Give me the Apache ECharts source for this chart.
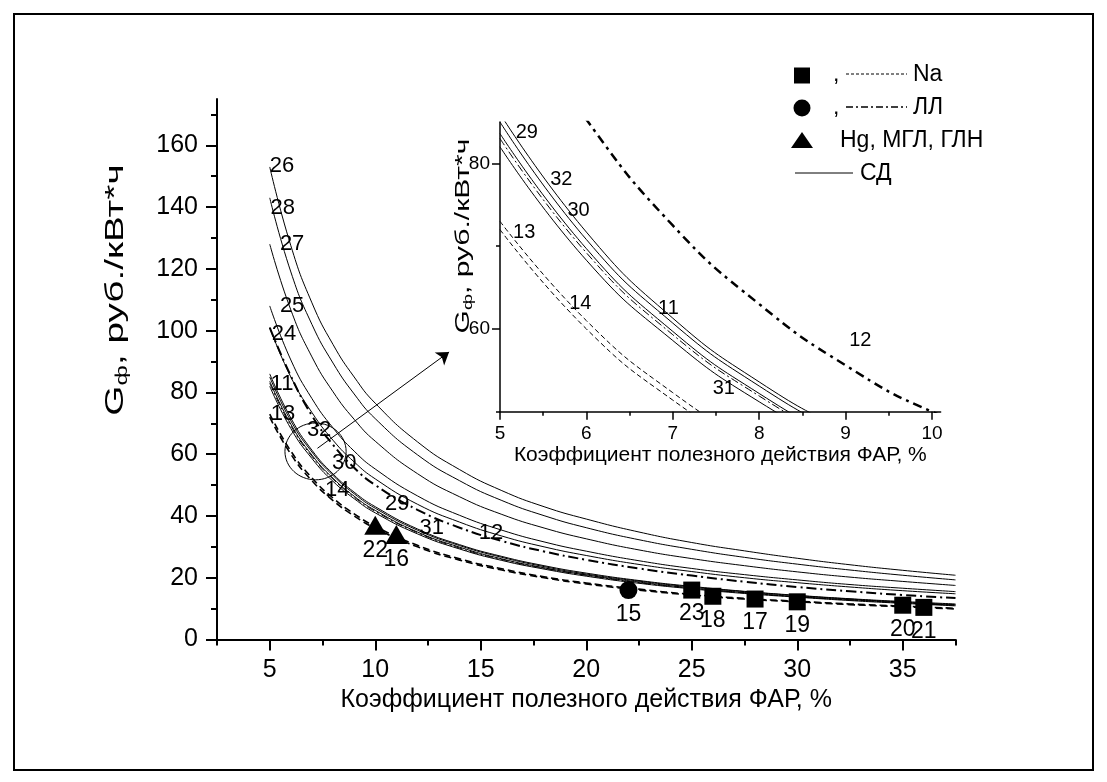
<!DOCTYPE html>
<html>
<head>
<meta charset="utf-8">
<script src="https://cdn.jsdelivr.net/npm/echarts@6/dist/echarts.min.js"></script>
<style>
  html, body { margin: 0; padding: 0; background: #fff; }
  #chart { width: 1107px; height: 782px; }
</style>
</head>
<body>
<div id="chart"></div>
<script>
// efficiency of PAR, %
const eta = [5, 6, 7, 8, 9, 10, 12, 14, 16, 18, 20, 22.5, 25, 27.5, 30, 32.5, 35, 37.5]

// СД (solid)
const g26 = [153, 127.5, 109, 95.5, 85, 76.5, 64, 55, 48.2, 43, 39, 34.8, 31.4, 28.7, 26.3, 24.2, 22.4, 20.8]
const g28 = [143, 119, 102, 89.5, 79.5, 71.5, 59.8, 51.4, 45, 40.1, 36.2, 32.3, 29.2, 26.6, 24.4, 22.5, 20.8, 19.3]
const g27 = [128, 106.7, 91.5, 80.2, 71.3, 64.2, 53.7, 46.2, 40.5, 36.1, 32.6, 29, 26.2, 23.9, 21.9, 20.2, 18.8, 17.5]
const g25 = [108, 90.5, 78, 68.5, 61, 55.2, 46.5, 40.2, 35.4, 31.6, 28.6, 25.5, 23, 21, 19.3, 17.8, 16.6, 15.5]
const g24 = [101, 85, 73.5, 64.5, 57.5, 52, 43.8, 38, 33.5, 30, 27.2, 24.3, 22, 20, 18.4, 17, 15.8, 14.8]
const g29 = [86, 71.7, 61.3, 53.6, 47.7, 43, 35.8, 30.7, 26.9, 23.9, 21.5, 19.1, 17.2, 15.6, 14.3, 13.2, 12.3, 11.5]
const g32 = [85, 70.8, 60.7, 53.1, 47.2, 42.5, 35.4, 30.4, 26.6, 23.6, 21.2, 18.9, 17, 15.5, 14.2, 13.1, 12.1, 11.3]
const g30 = [83.6, 69.7, 59.7, 52.2, 46.4, 41.8, 34.8, 29.9, 26.1, 23.2, 20.9, 18.6, 16.7, 15.2, 13.9, 12.9, 11.9, 11.1]
const g31 = [82, 68.3, 58.6, 51.2, 45.6, 41, 34.2, 29.3, 25.6, 22.8, 20.5, 18.2, 16.4, 14.9, 13.7, 12.6, 11.7, 10.9]
// ЛЛ (dash-dot)
const g12 = [101, 85.3, 72.5, 63, 55.6, 50, 42, 36.2, 31.9, 28.5, 25.8, 23, 20.7, 18.7, 17, 15.6, 14.4, 13.4]
const g11 = [83, 69.2, 59.3, 51.9, 46.1, 41.5, 34.6, 29.6, 25.9, 23.1, 20.8, 18.4, 16.6, 15.1, 13.8, 12.8, 11.9, 11.1]
// Na (dashed)
const g13 = [73, 61, 52.3, 45.8, 40.7, 36.6, 30.5, 26.1, 22.9, 20.3, 18.3, 16.3, 14.6, 13.3, 12.4, 11.5, 10.8, 10.1]
const g14 = [72, 60, 51.4, 45, 40, 36, 30, 25.7, 22.5, 20, 18, 16, 14.4, 13.1, 12.2, 11.3, 10.6, 9.9]

// single lamps
const naX = [25, 26, 28, 30, 35, 36]
const naY = [16, 14, 13.1, 12.2, 11.1, 10.4]
const naNum = ['23', '18', '17', '19', '20', '21']
const llX = [22]
const llY = [16]
const llNum = ['15']
const hgX = [10, 11]
const hgY = [37, 34]
const hgNum = ['22', '16']

// curve numbers [text, eta, G]
const mainTags = [['26', 5.58, 153.3], ['28', 5.62, 139.7], ['27', 6.06, 128.1], ['25', 6.06, 108.1],
  ['24', 5.68, 99], ['11', 5.58, 82.9], ['13', 5.63, 73], ['32', 7.34, 67.8], ['30', 8.53, 57.2],
  ['14', 8.2, 48.4], ['29', 11.04, 43.9], ['31', 12.68, 36.2], ['12', 15.49, 34.6]]
const insetTags = [['29', 5.31, 83.7], ['32', 5.71, 78], ['30', 5.91, 74.3], ['13', 5.28, 71.7],
  ['14', 5.93, 63.1], ['11', 6.95, 62.5], ['12', 9.17, 58.6], ['31', 7.59, 52.8]]

// ticks
const xMainTicks = [5, 10, 15, 20, 25, 30, 35]
const xMainMinor = [2.5, 7.5, 12.5, 17.5, 22.5, 27.5, 32.5, 37.5]
const yMainTicks = [0, 20, 40, 60, 80, 100, 120, 140, 160]
const yMainMinor = [10, 30, 50, 70, 90, 110, 130, 150, 170]
const xInsetTicks = [5, 6, 7, 8, 9, 10]
const xInsetMinor = [5.5, 6.5, 7.5, 8.5, 9.5]
const yInsetTicks = [60, 80]
const yInsetMinor = [50, 70]

const FONT = 'Liberation Sans, Arial, sans-serif'
const xTitle = 'Коэффициент полезного действия ФАР, %'

const solid = { type: 'solid', width: 1 }
const naMain = { type: [7, 4], width: 1.6 }
const naInset = { type: [5, 3], width: 1 }
const llMain = { type: [10, 4, 2, 4], width: 2 }
const llInset = { type: [9, 5, 3, 5], width: 2.5 }
const llThin = { type: [8, 3, 2, 3], width: 1 }

function curve(name, ys, style, ax) {
  return {
    name: name,
    type: 'line',
    xAxisIndex: ax,
    yAxisIndex: ax,
    data: eta.map((x, i) => [x, ys[i]]),
    smooth: 0.5,
    symbol: 'none',
    silent: true,
    lineStyle: Object.assign({ color: '#000' }, style)
  }
}

function tags(list, ax, size) {
  return {
    type: 'scatter',
    xAxisIndex: ax,
    yAxisIndex: ax,
    symbolSize: 0,
    silent: true,
    itemStyle: { opacity: 1 },
    data: list.map(t => ({ value: [t[1], t[2]], name: t[0] })),
    label: { show: true, position: 'inside', formatter: '{b}', color: '#000', fontSize: size, fontFamily: FONT },
    z: 5
  }
}

function marks(xs, ys, nums, symbol, size) {
  return {
    type: 'scatter',
    xAxisIndex: 0,
    yAxisIndex: 0,
    symbol: symbol,
    symbolSize: size,
    silent: true,
    itemStyle: { color: '#000', opacity: 1 },
    data: xs.map((x, i) => ({ value: [x, ys[i]], name: nums[i] })),
    label: { show: true, position: 'bottom', distance: 4, formatter: '{b}', color: '#000', fontSize: 23, fontFamily: FONT },
    z: 6
  }
}

function valueAxis(grid, min, max, ticks, len, lw, labelOpt, extra) {
  return Object.assign({
    type: 'value',
    gridIndex: grid,
    min: min,
    max: max,
    splitLine: { show: false },
    axisLine: { show: true, onZero: false, lineStyle: { color: '#000', width: lw } },
    axisTick: { show: true, customValues: ticks, length: len, lineStyle: { color: '#000', width: lw } },
    axisLabel: labelOpt ? Object.assign({ customValues: ticks, color: '#000', fontFamily: FONT }, labelOpt) : { show: false }
  }, extra || {})
}

const chart = echarts.init(document.getElementById('chart'), null, { renderer: 'canvas' })

const series = [
  curve('26', g26, solid, 0), curve('28', g28, solid, 0), curve('27', g27, solid, 0),
  curve('25', g25, solid, 0), curve('24', g24, solid, 0),
  curve('29', g29, solid, 0), curve('32', g32, solid, 0), curve('30', g30, solid, 0), curve('31', g31, solid, 0),
  curve('12', g12, llMain, 0), curve('11', g11, llThin, 0),
  curve('13', g13, naMain, 0), curve('14', g14, naMain, 0),
  // inset
  curve('29i', g29, solid, 2), curve('32i', g32, solid, 2), curve('30i', g30, solid, 2), curve('31i', g31, solid, 2),
  curve('12i', g12, llInset, 2), curve('11i', g11, llThin, 2),
  curve('13i', g13, naInset, 2), curve('14i', g14, naInset, 2),
  marks(naX, naY, naNum, 'rect', 17),
  marks(llX, llY, llNum, 'circle', 18),
  marks(hgX, hgY, hgNum, 'triangle', [22, 19]),
  Object.assign(tags(mainTags, 0, 22), {
    markLine: {
      silent: true,
      animation: false,
      symbol: ['none', 'arrow'],
      symbolSize: 12,
      label: { show: false },
      lineStyle: { type: 'solid', color: '#000', width: 1, opacity: 1 },
      data: [[{ coord: [7.26, 61.9] }, { coord: [13.5, 93.1] }]]
    }
  }),
  tags(insetTags, 2, 20),
  {
    // zoom ellipse around the crowded region
    type: 'custom',
    xAxisIndex: 0,
    yAxisIndex: 0,
    silent: true,
    data: [[7.17, 60.9, 1.45, 9.2]],
    renderItem: function (params, api) {
      const c = api.coord([api.value(0), api.value(1)])
      const s = api.size([api.value(2), api.value(3)])
      return {
        type: 'ellipse',
        shape: { cx: c[0], cy: c[1], rx: s[0], ry: s[1] },
        style: { fill: 'none', stroke: '#000', lineWidth: 1 }
      }
    }
  }
]

function yTitle(x, y, size, stretch) {
  return {
    type: 'text', x: x, y: y, rotation: Math.PI / 2, scaleX: stretch, silent: true,
    style: {
      text: '{a|G}{b|ф}{a|, руб./кВт*ч}', align: 'center', verticalAlign: 'middle',
      rich: {
        a: { fontSize: size, fontFamily: FONT, fill: '#000' },
        b: { fontSize: Math.round(size * 0.64), fontFamily: FONT, fill: '#000', padding: [Math.round(size * 0.55), 0, 0, 0] }
      }
    }
  }
}

function legendText(x, y, text) {
  return { type: 'text', x: x, y: y, silent: true, style: { text: text, fontSize: 23, fontFamily: FONT, fill: '#000', verticalAlign: 'middle' } }
}

chart.setOption({
  animation: false,
  backgroundColor: '#fff',
  grid: [
    { left: 217, top: 99, width: 738.5, height: 540.5 },
    { left: 500, top: 122, width: 440.6, height: 289.7 }
  ],
  xAxis: [
    valueAxis(0, 2.5, 37.5, xMainTicks, 11, 2, { fontSize: 25, margin: 18 }, {
      position: 'bottom',
      name: xTitle, nameLocation: 'middle', nameGap: 40,
      nameTextStyle: { color: '#000', fontSize: 25, fontFamily: FONT }
    }),
    valueAxis(0, 2.5, 37.5, xMainMinor, 6, 2, null, { position: 'bottom', axisLine: { show: false } }),
    valueAxis(1, 5, 10.1, xInsetTicks, 8, 1.5, { fontSize: 19, margin: 13 }, {
      position: 'bottom',
      name: xTitle, nameLocation: 'middle', nameGap: 32,
      nameTextStyle: { color: '#000', fontSize: 21, fontFamily: FONT }
    }),
    valueAxis(1, 5, 10.1, xInsetMinor, 4, 1.5, null, { position: 'bottom', axisLine: { show: false } })
  ],
  yAxis: [
    valueAxis(0, 0, 175, yMainTicks, 11, 2, { fontSize: 25, margin: 19 }, { position: 'left' }),
    valueAxis(0, 0, 175, yMainMinor, 6, 2, null, { position: 'left', axisLine: { show: false } }),
    valueAxis(1, 50, 85, yInsetTicks, 8, 1.5, { fontSize: 19, margin: 10 }, { position: 'left' }),
    valueAxis(1, 50, 85, yInsetMinor, 4, 1.5, null, { position: 'left', axisLine: { show: false } })
  ],
  series: series,
  graphic: [
    { type: 'rect', silent: true, shape: { x: 14, y: 14, width: 1079, height: 756 }, style: { fill: 'none', stroke: '#000', lineWidth: 2 } },
    yTitle(116, 290, 25, 1.55),
    yTitle(463, 236, 20, 1.5),
    // legend
    { type: 'rect', silent: true, shape: { x: 794, y: 67.5, width: 16, height: 16 }, style: { fill: '#000' } },
    legendText(833, 75, ','),
    { type: 'line', silent: true, shape: { x1: 846, y1: 74, x2: 907, y2: 74 }, style: { stroke: '#000', lineWidth: 1, lineDash: [3, 2] } },
    legendText(913, 75, 'Na'),
    { type: 'circle', silent: true, shape: { cx: 802, cy: 108, r: 8.5 }, style: { fill: '#000' } },
    legendText(833, 108, ','),
    { type: 'line', silent: true, shape: { x1: 846, y1: 107, x2: 907, y2: 107 }, style: { stroke: '#000', lineWidth: 1.5, lineDash: [7, 3, 2, 3] } },
    legendText(913, 108, 'ЛЛ'),
    { type: 'polygon', silent: true, shape: { points: [[802, 132], [813, 148], [791, 148]] }, style: { fill: '#000' } },
    legendText(840, 141, 'Hg, МГЛ, ГЛН'),
    { type: 'line', silent: true, shape: { x1: 795, y1: 173, x2: 853, y2: 173 }, style: { stroke: '#000', lineWidth: 1 } },
    legendText(860, 174, 'СД')
  ]
})
</script>
</body>
</html>
